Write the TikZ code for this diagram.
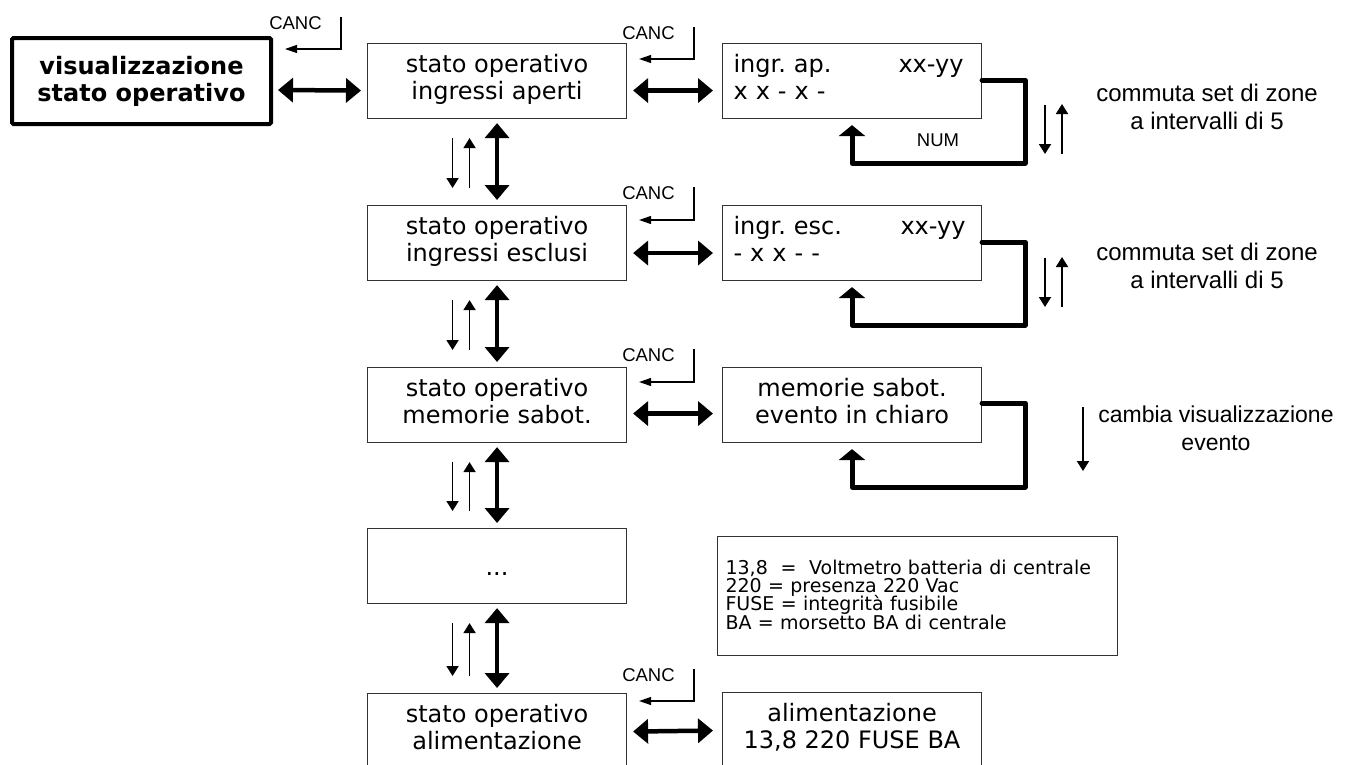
\documentclass[tikz,border=0pt]{standalone}
\usepackage{fontspec}
\setmainfont{DejaVu Sans}
\newfontfamily\arialf{Liberation Sans}
\usetikzlibrary{arrows.meta,calc}
\newcommand\bigfs{\fontsize{24}{27}\selectfont\lineskiplimit=-20pt\frenchspacing}
\newcommand\legfs{\fontsize{19}{18.4}\selectfont\lineskiplimit=-20pt\frenchspacing}
\newcommand\lblfs{\arialf\fontsize{24}{28}\selectfont\lineskiplimit=-20pt}
\newcommand\lblsfs{\arialf\fontsize{23}{28}\selectfont\lineskiplimit=-20pt}
\newcommand\cancfs{\arialf\fontsize{18.5}{20}\selectfont}
\begin{document}
\begin{tikzpicture}[x=1pt,y=-1pt,
  mainbox/.style={draw=black, line width=4pt, rounded corners=1.5pt, minimum width=259pt, minimum height=86pt, inner sep=0pt, align=center, font=\bigfs\bfseries},
  box/.style={draw=black!80, line width=1.1pt, minimum width=259pt, minimum height=75pt, inner sep=0pt, anchor=north west, align=center, font=\bigfs},
  lbox/.style={box, align=left, text width=237pt, inner xsep=11pt},
  legbox/.style={draw=black!80, line width=1.1pt, minimum width=400pt, minimum height=119pt, anchor=north west, text width=384pt, inner xsep=8pt, inner ysep=0pt, align=left, font=\legfs},
  rlabel/.style={align=center, inner sep=0pt, font=\lblfs},
  canc/.style={inner sep=0pt, font=\cancfs},
  thickarr/.style={line width=4.5pt, {Triangle[length=15pt,width=24pt]}-{Triangle[length=15pt,width=24pt]}},
  looparr/.style={line width=5pt, line cap=round, line join=round, -{Triangle[length=11pt,width=26pt]}},
  thinarr/.style={line width=1.8pt, -{Triangle[length=10pt,width=12pt]}},
  cancarr/.style={line width=1.2pt, -{Triangle[length=12pt,width=8pt]}}
]
\useasboundingbox (0,0) rectangle (1345,764);

% main column
\node[mainbox] (A) at (141.5,81) {visualizzazione\\stato operativo};
\node[box] (B) at (367,43) {\strut stato operativo\\ingressi aperti\strut};
\node[box] (C) at (367,205) {\strut stato operativo\\ingressi esclusi\strut};
\node[box] (D) at (367,367) {\strut stato operativo\\memorie sabot.\strut};
\node[box] (E) at (367,528) {\strut\raisebox{-4pt}{...}};
\node[box] (F) at (367,693) {\strut stato operativo\\alimentazione\strut};

% right column
\node[lbox] (R1) at (722,43) {\makebox[230pt][l]{\strut ingr. ap.\hfill xx-yy}\\x x - x -\strut};
\node[lbox] (R2) at (722,205) {\makebox[232pt][l]{\strut ingr. esc.\hfill xx-yy}\\- x x - -\strut};
\node[box] (R3) at (722,367) {\strut memorie sabot.\\evento in chiaro\strut};
\node[box] (R5) at (722,692) {\strut alimentazione\\13,8 220 FUSE BA\strut};

\node[legbox] (L) at (717,536) {13,8\ \ =\ \ Voltmetro batteria di centrale\\220 = presenza 220 Vac\\FUSE = integrità fusibile\\BA = morsetto BA di centrale\rule[-3pt]{0pt}{3pt}};

% labels
\node[rlabel] (T1) at (1207,106.5) {commuta set di zone\\a intervalli di 5};
\node[rlabel] (T2) at (1207,266) {commuta set di zone\\a intervalli di 5};
\node[rlabel, font=\lblsfs] (T3) at (1216,428) {cambia visualizzazione\\evento};
\node[canc] (N1) at (938,140) {NUM};

% CANC arrows
\node[canc] (c1) at (295.5,23) {CANC};
\node[canc] (c2) at (648.5,33) {CANC};
\node[canc] (c3) at (648.5,193) {CANC};
\node[canc] (c4) at (648.5,355) {CANC};
\node[canc] (c5) at (648.5,675) {CANC};
\draw[cancarr] ($(c1.north east)+(19,1)$) |- ($(A.north east)+(12,13)$);
\draw[cancarr] ($(c2.north east)+(19,1)$) |- ($(B.north east)+(12,16)$);
\draw[cancarr] ($(c3.north east)+(19,1)$) |- ($(C.north east)+(12,15)$);
\draw[cancarr] ($(c4.north east)+(19,1)$) |- ($(D.north east)+(12,15)$);
\draw[cancarr] ($(c5.north east)+(19,1)$) |- ($(F.north east)+(12,8)$);

% horizontal thick arrows
\draw[thickarr] ($(A.east)+(5,9)$) -- ($(B.west)+(-6,9.5)$);
\draw[thickarr] ($(B.east)+(6,9.5)$) -- ($(R1.west)+(-9,9.5)$);
\draw[thickarr] ($(C.east)+(6,10)$) -- ($(R2.west)+(-9,10)$);
\draw[thickarr] ($(D.east)+(6,8.5)$) -- ($(R3.west)+(-9,8.5)$);
\draw[thickarr] ($(F.east)+(6,0.5)$) -- ($(R5.west)+(-9,0.5)$);

% vertical arrows
\foreach \u/\l in {B/C,C/D,D/E,E/F}{
  \draw[thickarr] ($(\u.south)+(0,4)$) -- ($(\l.north)+(0,-5)$);
  \draw[thinarr] ($(\u.south)+(-44.5,19)$) -- ($(\l.north)+(-44.5,-17)$);
  \draw[thinarr] ($(\l.north)+(-27.5,-17)$) -- ($(\u.south)+(-27.5,19)$);
}

% loops
\draw[looparr] ($(R1.north east)+(0,37)$) -| ($(R1.south east)+(43,44)$) -| ($(R1.south west)+(130,6)$);
\draw[looparr] ($(R2.north east)+(0,37)$) -| ($(R2.south east)+(43,44)$) -| ($(R2.south west)+(130,6)$);
\draw[looparr] ($(R3.north east)+(0,36)$) -| ($(R3.south east)+(43,44)$) -| ($(R3.south west)+(130,6)$);

% side arrows
\coordinate (p1) at (1045,105); \coordinate (q1) at (1045,154);
\coordinate (p2) at (1062,154); \coordinate (q2) at (1062,104);
\coordinate (p3) at (1045,258); \coordinate (q3) at (1045,307);
\coordinate (p4) at (1062,307); \coordinate (q4) at (1062,257);
\coordinate (p5) at (1083,407); \coordinate (q5) at (1083,471);
\draw[thinarr] (p1) -- (q1);
\draw[thinarr] (p2) -- (q2);
\draw[thinarr] (p3) -- (q3);
\draw[thinarr] (p4) -- (q4);
\draw[thinarr] (p5) -- (q5);
\end{tikzpicture}
\end{document}
